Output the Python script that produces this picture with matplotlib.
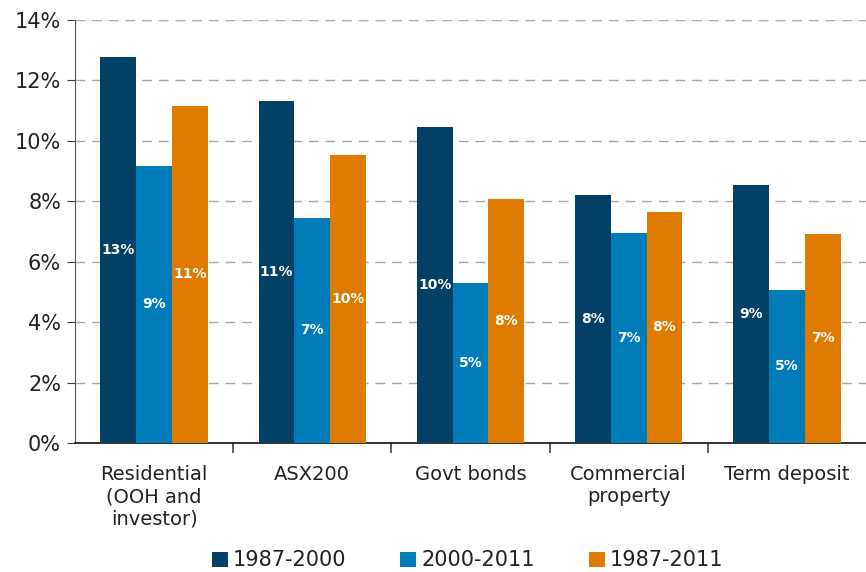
import numpy as np
import matplotlib
matplotlib.use("Agg")
import matplotlib.pyplot as plt
from matplotlib.ticker import FuncFormatter, FixedLocator

# data
categories = ["Residential\n(OOH and\ninvestor)", "ASX200", "Govt bonds",
              "Commercial\nproperty", "Term deposit"]
series_names = ["1987-2000", "2000-2011", "1987-2011"]
r_1987_2000 = [12.78, 11.32, 10.46, 8.21, 8.54]
r_2000_2011 = [9.17, 7.45, 5.30, 6.95, 5.07]
r_1987_2011 = [11.16, 9.54, 8.08, 7.65, 6.92]
colors = ["#024066", "#007CBB", "#DE7B00"]

plt.rcParams['font.family'] = ['DejaVu Sans']

fig = plt.figure(figsize=(8.66, 5.72), dpi=100)
ax = fig.add_axes([0.0866, 0.2255, 0.9134, 0.7395])

x = np.arange(len(categories))
w = 0.226
handles = []
for k, (vals, col) in enumerate(zip([r_1987_2000, r_2000_2011, r_1987_2011], colors)):
    bars = ax.bar(x + (k - 1) * w, vals, width=w, color=col, label=series_names[k], zorder=3)
    handles.append(bars)
    for b, v in zip(bars, vals):
        ax.text(b.get_x() + b.get_width() / 2, v / 2, f"{v:.0f}%", ha='center', va='center',
                color='white', fontsize=10, fontweight='bold', zorder=4)

ax.set_xlim(-0.5, len(categories) - 0.5)
ax.set_ylim(0, 14)
ax.set_yticks(np.arange(0, 15, 2))
ax.yaxis.set_major_formatter(FuncFormatter(lambda v, p: f"{v:.0f}%"))
ax.grid(axis='y', linestyle=(0, (7, 5)), color='#a6a6a6', linewidth=1, zorder=0)

# category labels centred, tick marks at group boundaries
ax.set_xticks(x)
ax.set_xticklabels(categories, fontsize=14, color='#222222', linespacing=1.2)
ax.tick_params(axis='x', length=0, pad=16)
ax.xaxis.set_minor_locator(FixedLocator(np.arange(0.5, len(categories) - 0.5, 1)))
ax.tick_params(axis='x', which='minor', length=7, width=1.2, color='#444444', direction='out')
ax.tick_params(axis='y', labelsize=15, labelcolor='#222222', length=6, color='#444444', pad=4)

for s in ['top', 'right']:
    ax.spines[s].set_visible(False)
ax.spines['left'].set_color('#555555')
ax.spines['bottom'].set_color('#111111')
ax.spines['bottom'].set_linewidth(1.2)

fig.legend(handles=handles, loc='lower center', bbox_to_anchor=(0.54, -0.03), ncol=3,
           frameon=False, fontsize=15, handlelength=0.75, handleheight=0.75,
           handletextpad=0.25, columnspacing=2.6, labelcolor='#222222')

plt.savefig('out.png', dpi=100)
